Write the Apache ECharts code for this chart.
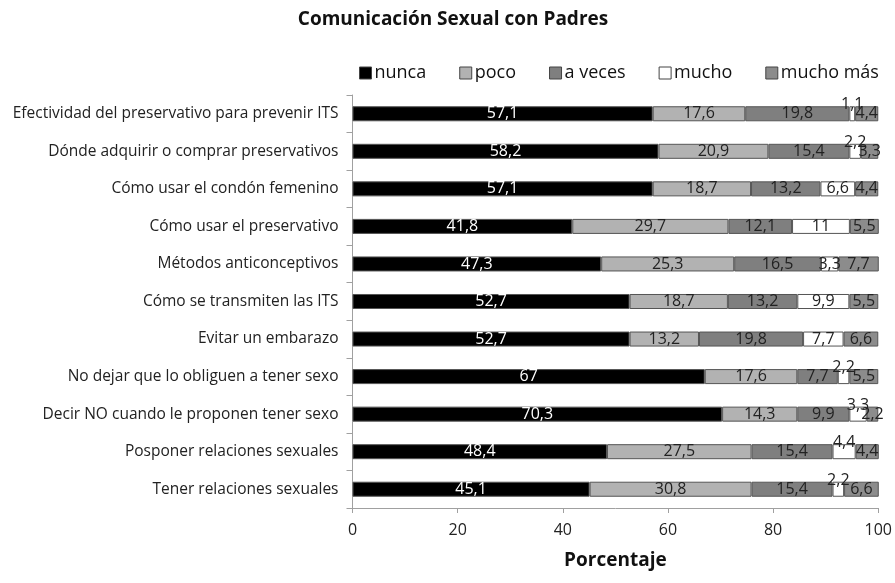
<!DOCTYPE html>
<html>
<head>
<meta charset="utf-8">
<script src="https://cdn.jsdelivr.net/npm/echarts@6/dist/echarts.min.js"></script>
<style>
  html, body { margin: 0; padding: 0; background: #fff; }
  #chart { width: 895px; height: 583px; }
</style>
</head>
<body>
<div id="chart"></div>
<script>
// categorias (de arriba hacia abajo)
var categories = [
    'Efectividad del preservativo para prevenir ITS',
    'Dónde adquirir o comprar preservativos',
    'Cómo usar el condón femenino',
    'Cómo usar el preservativo',
    'Métodos anticonceptivos',
    'Cómo se transmiten las ITS',
    'Evitar un embarazo',
    'No dejar que lo obliguen a tener sexo',
    'Decir NO cuando le proponen tener sexo',
    'Posponer relaciones sexuales',
    'Tener relaciones sexuales'
];
var seriesNames = ['nunca', 'poco', 'a veces', 'mucho', 'mucho más'];
var nunca    = [57.1, 58.2, 57.1, 41.8, 47.3, 52.7, 52.7, 67, 70.3, 48.4, 45.1];
var poco     = [17.6, 20.9, 18.7, 29.7, 25.3, 18.7, 13.2, 17.6, 14.3, 27.5, 30.8];
var aVeces   = [19.8, 15.4, 13.2, 12.1, 16.5, 13.2, 19.8, 7.7, 9.9, 15.4, 15.4];
var mucho    = [1.1, 2.2, 6.6, 11, 3.3, 9.9, 7.7, 2.2, 3.3, 4.4, 2.2];
var muchoMas = [4.4, 3.3, 4.4, 5.5, 7.7, 5.5, 6.6, 5.5, 2.2, 4.4, 6.6];
var xTicks = [0, 20, 40, 60, 80, 100];
// filas donde la etiqueta de "mucho" queda por encima de la barra
var raisedRows = [0, 1, 7, 8, 9, 10];

var colors = ['#000000', '#b2b2b2', '#7f7f7f', '#ffffff', '#8c8c8c'];
var allData = [nunca, poco, aVeces, mucho, muchoMas];
var FONT = '"Open Sans", sans-serif';

function fmt(p) {
    return String(p.value).replace('.', ',');
}

var series = allData.map(function (arr, i) {
    return {
        name: seriesNames[i],
        type: 'bar',
        stack: 'total',
        barWidth: '40%',
        itemStyle: { color: colors[i], borderColor: '#555', borderWidth: 1 },
        label: {
            show: true,
            position: 'inside',
            formatter: fmt,
            fontFamily: FONT,
            fontSize: 16,
            color: i === 0 ? '#fff' : '#222'
        },
        data: arr.map(function (v, j) {
            if (i === 3 && raisedRows.indexOf(j) >= 0) {
                return { value: v, label: { offset: [0, -9] } };
            }
            return v;
        })
    };
});

var myChart = echarts.init(document.getElementById('chart'));
var option = {
    animation: false,
    title: {
        text: 'Comunicación Sexual con Padres',
        left: 448,
        textAlign: 'center',
        top: 5,
        textStyle: { fontFamily: FONT, fontSize: 19, fontWeight: 'bold', color: '#111' }
    },
    legend: {
        data: seriesNames,
        left: 354,
        top: 59,
        itemWidth: 12,
        itemHeight: 12,
        itemGap: 33,
        icon: 'rect',
        itemStyle: { borderColor: '#444', borderWidth: 1 },
        textStyle: { fontFamily: FONT, fontSize: 18, color: '#111', padding: [0, 0, 0, -2] }
    },
    grid: { left: 352.5, right: 15, top: 95, bottom: 75 },
    xAxis: {
        type: 'value',
        min: 0,
        max: 100,
        interval: 20,
        name: 'Porcentaje',
        nameLocation: 'middle',
        nameGap: 43,
        nameTextStyle: { fontFamily: FONT, fontSize: 19, fontWeight: 'bold', color: '#111' },
        axisLine: { show: true, lineStyle: { color: '#a0a0a0' } },
        axisTick: { show: true, length: 5, lineStyle: { color: '#a0a0a0' } },
        axisLabel: {
            fontFamily: FONT, fontSize: 16, color: '#222', margin: 14,
            formatter: function (v) { return xTicks.indexOf(v) >= 0 ? v : ''; }
        },
        splitLine: { show: false }
    },
    yAxis: {
        type: 'category',
        data: categories,
        inverse: true,
        axisLine: { show: true, lineStyle: { color: '#a0a0a0' } },
        axisTick: { show: true, length: 6, lineStyle: { color: '#a0a0a0' } },
        axisLabel: { fontFamily: FONT, fontSize: 15.5, color: '#222', margin: 14 }
    },
    series: series
};
myChart.setOption(option);
</script>
</body>
</html>
